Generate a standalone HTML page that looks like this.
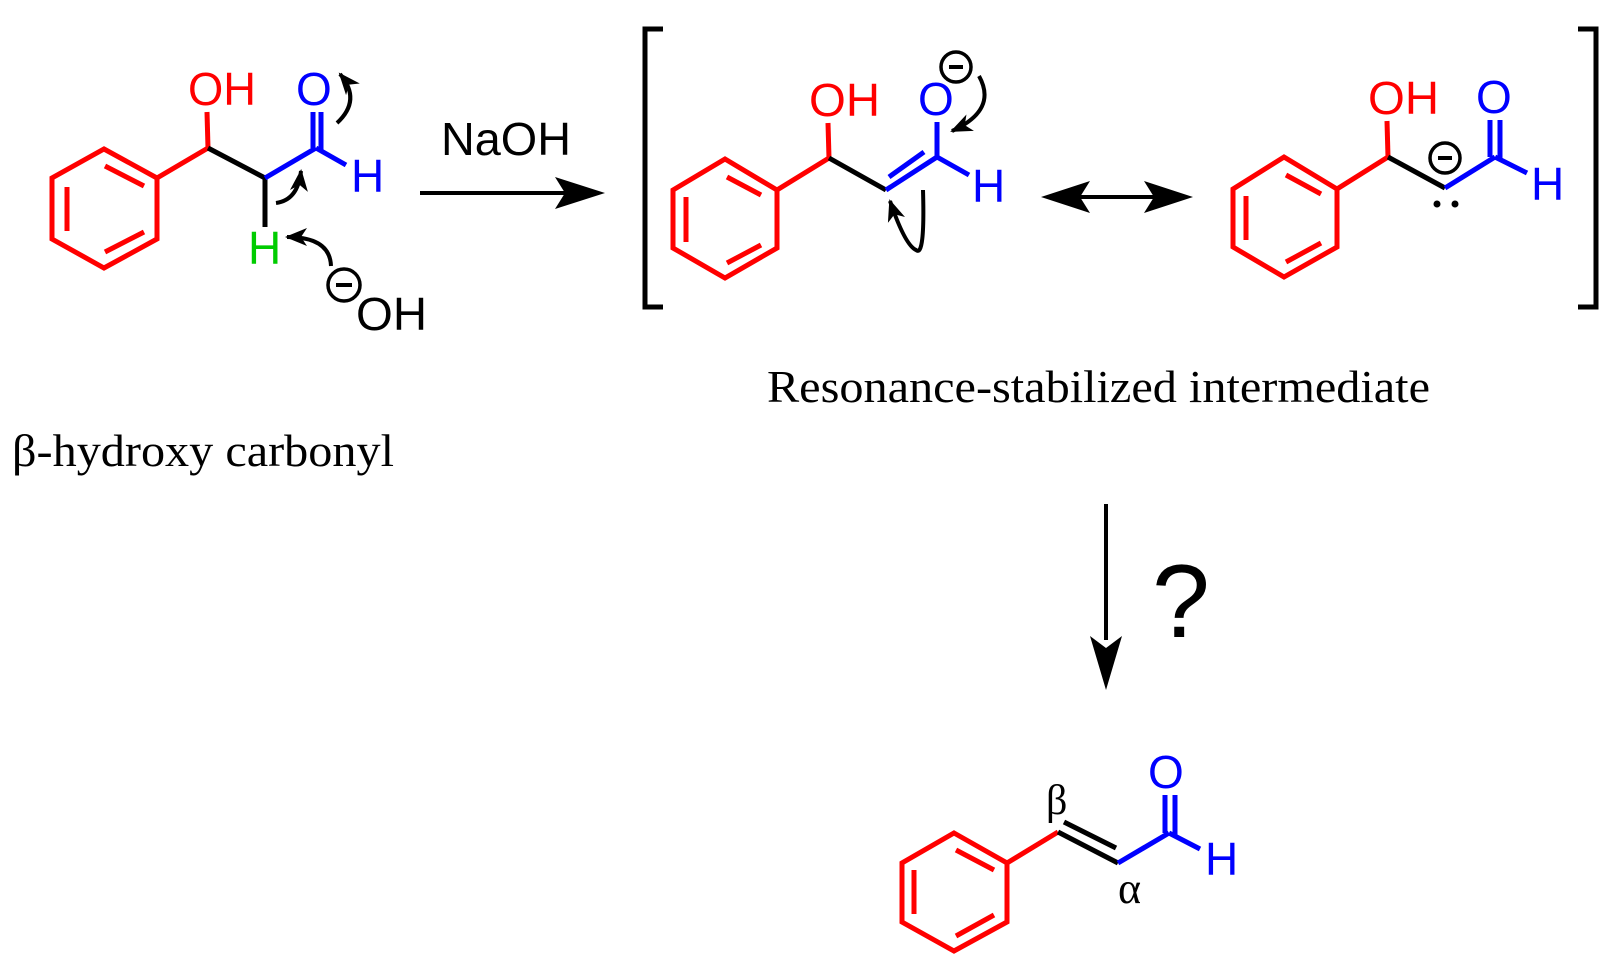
<!DOCTYPE html>
<html><head><meta charset="utf-8"><style>
html,body{margin:0;padding:0;background:#fff;}
svg{display:block;}
text{font-family:"Liberation Sans",sans-serif;}
.s{font-family:"Liberation Serif",serif;}
</style></head><body>
<svg width="1614" height="977" viewBox="0 0 1614 977" xmlns="http://www.w3.org/2000/svg">
<defs>
<marker id="ch" markerWidth="24" markerHeight="24" refX="20" refY="12" orient="auto" markerUnits="userSpaceOnUse" viewBox="0 0 24 24">
<path d="M0,3 L22,12 L0,21 L6,12 Z" fill="#000"/>
</marker>
</defs>
<g stroke-width="5" fill="none" stroke-linecap="butt">
<!-- Molecule 1 -->
<g stroke="#f00">
<polygon points="104,149 157,178 157,239 104,268 52,239 52,178" stroke-linejoin="miter"/>
<line x1="105" y1="166" x2="144" y2="186"/>
<line x1="67" y1="187" x2="67" y2="231"/>
<line x1="105" y1="252" x2="144" y2="232"/>
<line x1="157" y1="178" x2="208" y2="148"/>
<line x1="208" y1="148" x2="207" y2="112"/>
</g>
<line x1="208" y1="148" x2="265" y2="178" stroke="#000"/>
<line x1="265" y1="178" x2="265" y2="227" stroke="#000"/>
<g stroke="#00f">
<line x1="265" y1="178" x2="316" y2="148"/>
<line x1="313" y1="112" x2="313" y2="148"/>
<line x1="321" y1="112" x2="321" y2="150"/>
<line x1="316" y1="148" x2="346" y2="165"/>
</g>
<g stroke="#000" stroke-width="4">
<path d="M337,123 Q362,100 340,74" marker-end="url(#ch)"/>
<path d="M276,203 Q298,200 301,171" marker-end="url(#ch)"/>
<path d="M331,266 Q330,237 287,237" marker-end="url(#ch)"/>
<circle cx="344" cy="285" r="16" stroke-width="3.5"/>
<line x1="336" y1="285" x2="352" y2="285"/>
</g>
<line x1="420" y1="193" x2="570" y2="193" stroke="#000" stroke-width="4"/>
<!-- Brackets -->
<g stroke="#000" stroke-width="5">
<polyline points="663,29 645,29 645,307 663,307"/>
<polyline points="1578,29 1596,29 1596,307 1578,307"/>
</g>
<!-- Molecule 2 -->
<g stroke="#f00">
<polygon points="725,159 777,190 777,248 725,278 673,248 673,190"/>
<line x1="727" y1="177" x2="761" y2="195"/>
<line x1="686" y1="197" x2="686" y2="242"/>
<line x1="727" y1="263" x2="761" y2="245"/>
<line x1="777" y1="190" x2="829" y2="158"/>
<line x1="829" y1="158" x2="828" y2="123"/>
</g>
<line x1="829" y1="158" x2="886" y2="190" stroke="#000"/>
<g stroke="#00f">
<line x1="886" y1="190" x2="937" y2="157"/>
<line x1="889" y1="177" x2="924" y2="152"/>
<line x1="937" y1="157" x2="937" y2="122"/>
<line x1="937" y1="157" x2="969" y2="175"/>
</g>
<g stroke="#000" stroke-width="4">
<circle cx="956" cy="67" r="15" stroke-width="3.5"/>
<line x1="949" y1="67" x2="963" y2="67"/>
<path d="M979,76 Q998,110 952,131" marker-end="url(#ch)"/>
<path d="M923,190 Q925,258 916,250 Q905,245 890,201" marker-end="url(#ch)"/>
</g>
<!-- double arrow -->
<g stroke="#000" stroke-width="4">
<line x1="1060" y1="197" x2="1175" y2="197"/>
</g>
<!-- Molecule 3 -->
<g stroke="#f00">
<polygon points="1284,157 1337,189 1337,247 1284,277 1233,247 1233,189"/>
<line x1="1286" y1="175" x2="1321" y2="194"/>
<line x1="1246" y1="196" x2="1246" y2="240"/>
<line x1="1286" y1="262" x2="1321" y2="243"/>
<line x1="1337" y1="189" x2="1388" y2="157"/>
<line x1="1388" y1="157" x2="1387" y2="121"/>
</g>
<line x1="1388" y1="157" x2="1445" y2="188" stroke="#000"/>
<g stroke="#00f">
<line x1="1445" y1="188" x2="1495" y2="157"/>
<line x1="1490" y1="120" x2="1490" y2="157"/>
<line x1="1500" y1="120" x2="1500" y2="159"/>
<line x1="1495" y1="157" x2="1527" y2="173"/>
</g>
<g stroke="#000">
<circle cx="1445" cy="158" r="15" stroke-width="3.5"/>
<line x1="1438" y1="158" x2="1452" y2="158" stroke-width="4"/>
</g>
<!-- Down arrow -->
<line x1="1106" y1="504" x2="1106" y2="640" stroke="#000" stroke-width="4"/>
<!-- Molecule 4 -->
<g stroke="#f00">
<polygon points="954,833 1007,863 1007,922 954,951 902,922 902,863"/>
<line x1="956" y1="850" x2="994" y2="870"/>
<line x1="914" y1="870" x2="914" y2="914"/>
<line x1="956" y1="936" x2="994" y2="915"/>
<line x1="1007" y1="863" x2="1058" y2="832"/>
</g>
<line x1="1058" y1="832" x2="1118" y2="863" stroke="#000"/>
<line x1="1064" y1="822" x2="1116" y2="848" stroke="#000"/>
<g stroke="#00f">
<line x1="1118" y1="863" x2="1169" y2="833"/>
<line x1="1165" y1="795" x2="1165" y2="833"/>
<line x1="1175" y1="795" x2="1175" y2="835"/>
<line x1="1169" y1="833" x2="1200" y2="849"/>
</g>
</g>
<path d="M605,193 L555,177 L565,193 L555,209 Z" fill="#000"/>
<path d="M1041,197 L1090,181 L1080,197 L1090,213 Z" fill="#000"/>
<path d="M1193,197 L1144,181 L1154,197 L1144,213 Z" fill="#000"/>
<path d="M1106,690 L1090,636 L1106,648 L1122,636 Z" fill="#000"/>
<circle cx="1437" cy="204" r="3.5" fill="#000"/>
<circle cx="1455" cy="204" r="3.5" fill="#000"/>
<!-- Text -->
<g font-size="46">
<text x="188" y="105" fill="#f00" textLength="68" lengthAdjust="spacingAndGlyphs">OH</text>
<text x="296" y="105" fill="#00f">O</text>
<text x="351" y="192" fill="#00f">H</text>
<text x="248" y="264" fill="#0c0">H</text>
<text x="356" y="330" fill="#000" textLength="71" lengthAdjust="spacingAndGlyphs">OH</text>
<text x="441" y="155" fill="#000" textLength="130" lengthAdjust="spacingAndGlyphs">NaOH</text>
<text x="809" y="116" fill="#f00" textLength="71" lengthAdjust="spacingAndGlyphs">OH</text>
<text x="918" y="115" fill="#00f">O</text>
<text x="972" y="202" fill="#00f">H</text>
<text x="1368" y="114" fill="#f00" textLength="71" lengthAdjust="spacingAndGlyphs">OH</text>
<text x="1476" y="113" fill="#00f">O</text>
<text x="1531" y="200" fill="#00f">H</text>
<text x="1148" y="788" fill="#00f">O</text>
<text x="1205" y="875" fill="#00f">H</text>
</g>
<text class="s" x="1046" y="814" font-size="42" fill="#000">β</text>
<text class="s" x="1118" y="903" font-size="44" fill="#000">α</text>
<text x="1152" y="637" font-size="104" fill="#000">?</text>
<text class="s" x="767" y="402" font-size="46" fill="#000" textLength="663" lengthAdjust="spacingAndGlyphs">Resonance-stabilized intermediate</text>
<text class="s" x="12" y="466" font-size="46" fill="#000" textLength="382" lengthAdjust="spacingAndGlyphs">β-hydroxy carbonyl</text>
</svg>
</body></html>
